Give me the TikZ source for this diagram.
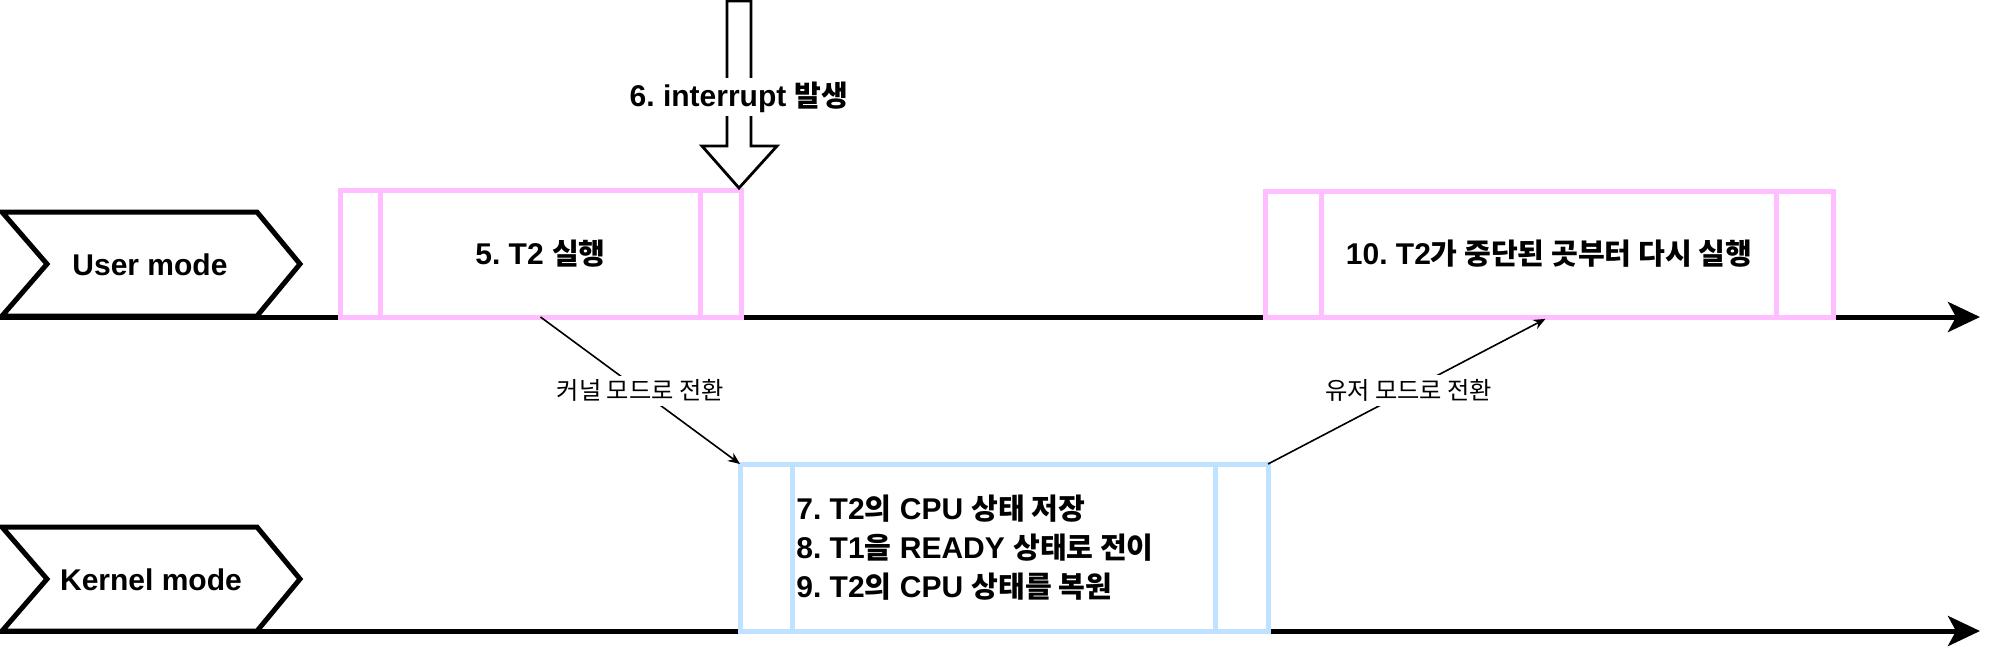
\documentclass[tikz,border=0pt]{standalone}
\usepackage{fontspec}
\setmainfont{Liberation Sans}
\newfontfamily\kr{Noto Sans CJK KR}[Scale=0.97]
\newcommand\ko[1]{{\kr #1}}
\usetikzlibrary{arrows.meta,calc}
\definecolor{upink}{RGB}{255,190,255}
\definecolor{kblue}{RGB}{190,226,255}
\frenchspacing
\begin{document}
\begin{tikzpicture}[x=.5pt, y=-.5pt, >={Stealth[length=6pt,width=5pt]},
  lbl/.style={font=\fontsize{15}{19.5}\selectfont\bfseries},
  proc/.style={draw=#1, line width=2.5pt, fill=white, inner sep=0pt, outer sep=0pt, lbl},
  swlbl/.style={fill=white, inner sep=2pt, font=\fontsize{12.5}{15}\selectfont},
  tline/.style={line width=2.5pt, -{Stealth[length=16pt,width=15pt,inset=4pt]}}]

\useasboundingbox (0,0) rectangle (2000,650);

% time lines
\draw[tline] (0,317) -- (1980,317);
\draw[tline] (0,631) -- (1980,631);

% mode tags
\draw[line width=2.5pt, fill=white] (2,212) -- (257,212) -- (300,264) -- (257,316) -- (2,316) -- (47,264) -- cycle;
\draw[line width=2.5pt, fill=white] (2,527) -- (257,527) -- (300,579) -- (257,631) -- (2,631) -- (47,579) -- cycle;
\node[lbl] (user) at (150,265) {User mode};
\node[lbl] (kernel) at (151,580) {Kernel mode};

\node[proc=upink, minimum width=200.5pt, minimum height=63.5pt] (run1) at (540.5,253.5) {5. T2 \ko{실행}};
\node[proc=kblue, minimum width=264pt, minimum height=83.5pt] (kern) at (1004,547.5) {};
\node[proc=upink, minimum width=284pt, minimum height=63pt] (run2) at (1549,254) {10. T2\ko{가 중단된 곳부터 다시 실행}};
\foreach \b/\c in {run1/upink, kern/kblue, run2/upink}
  \draw[\c, line width=2.5pt] ($(\b.north west)!.1!(\b.north east)$) -- ($(\b.south west)!.1!(\b.south east)$)
    ($(\b.north west)!.9!(\b.north east)$) -- ($(\b.south west)!.9!(\b.south east)$);
\node[lbl, align=left, anchor=west, inner sep=0pt] (kerntxt) at (796,548)
  {7. T2\ko{의} CPU \ko{상태 저장}\\8. T1\ko{을} READY \ko{상태로 전이}\\9. T2\ko{의} CPU \ko{상태를 복원}};

% interrupt
\draw[line width=1.4pt, fill=white] (727,1) -- (751,1) -- (751,146) -- (777,146) -- (739,188) -- (702,146) -- (727,146) -- cycle;
\node[lbl, fill=white, inner sep=2pt] (intr) at (739,97) {6. interrupt \ko{발생}};

\draw[->, line width=.8pt] (run1.south) -- node[swlbl] (tokern) {\ko{커널 모드로 전환}} (kern.north west);
\draw[->, line width=.8pt, shorten >=2pt] (kern.north east) -- node[swlbl] (touser) {\ko{유저 모드로 전환}} (run2.south);

\end{tikzpicture}
\end{document}
